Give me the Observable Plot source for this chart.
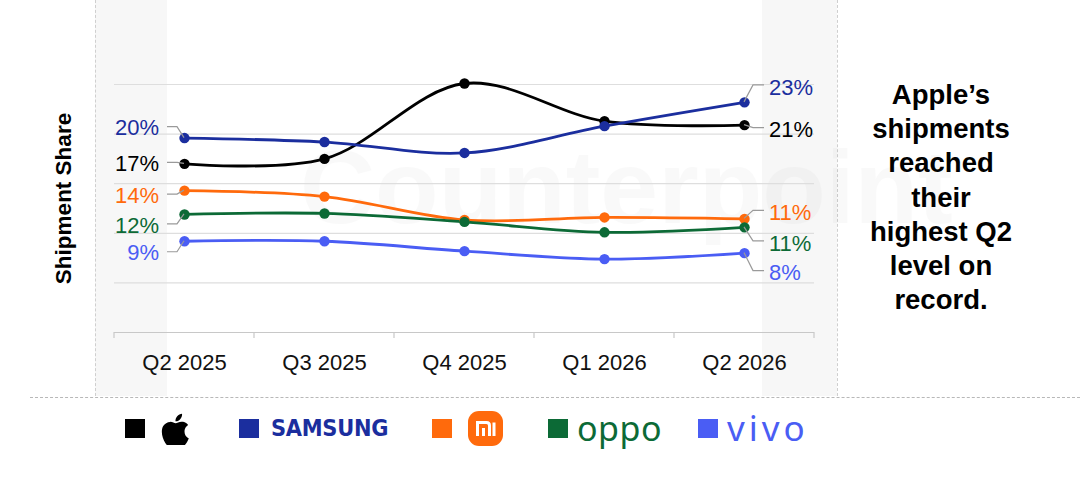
<!DOCTYPE html>
<html>
<head>
<meta charset="utf-8">
<script src="https://cdn.jsdelivr.net/npm/d3@7"></script>
<script src="https://cdn.jsdelivr.net/npm/@observablehq/plot@0.6"></script>
<style>
  html, body { margin: 0; padding: 0; background: #fff; }
  body { width: 1080px; height: 490px; position: relative; overflow: hidden; font-family: "Liberation Sans", Arial, sans-serif; }
  .abs { position: absolute; }
  .strip { background: #f7f7f7; top: 0; height: 396px; }
  .vdash { top: 0; height: 396px; border-left: 1.2px dashed #cfcfcf; width: 0; }
  .hdash { left: 30px; right: 0; top: 397px; border-top: 1.5px dashed #b8b8b8; height: 0; }
  .watermark { left: 300px; top: 128px; font: bold 104px "Liberation Sans", Arial, sans-serif; color: #000; opacity: 0.02; white-space: nowrap; }
  #chart { left: 0; top: 0; }
  .note { left: 826px; width: 230px; top: 78px; text-align: center; font: bold 27.5px/34.2px "Liberation Sans", Arial, sans-serif; color: #000; }
  .sq { width: 20px; height: 19px; top: 419px; }
</style>
</head>
<body>
<div class="abs strip" style="left:95px;width:72px"></div>
<div class="abs strip" style="left:762px;width:75px"></div>
<div class="abs vdash" style="left:95px"></div>
<div class="abs vdash" style="left:837px"></div>
<div class="abs hdash"></div>
<div class="abs watermark">Counterpoint</div>
<div class="abs" id="chart"></div>
<div class="abs note">Apple’s<br>shipments<br>reached<br>their<br>highest Q2<br>level on<br>record.</div>
<div id="legend"></div>
<script>
// ---- data ----
const quarters = ["Q2 2025", "Q3 2025", "Q4 2025", "Q1 2026", "Q2 2026"];
const brands = ["Apple", "Samsung", "Xiaomi", "OPPO", "vivo"];
const colors = ["#000000", "#1b2e9e", "#ff6a0c", "#0c6a36", "#4a5df4"];
const apple   = [17.0, 17.5, 25.1, 21.3, 20.9];
const samsung = [19.6, 19.2, 18.1, 20.8, 23.2];
const xiaomi  = [14.3, 13.7, 11.35, 11.6, 11.45];
const oppo    = [11.9, 12.0, 11.15, 10.1, 10.6];
const vivo    = [9.2, 9.2, 8.2, 7.4, 8.0];
const startLabels = ["17%", "20%", "14%", "12%", "9%"];
const endLabels   = ["21%", "23%", "11%", "11%", "8%"];
const gridValues = [5, 10, 15, 20, 25];

const series = [apple, samsung, xiaomi, oppo, vivo];
const rows = [];
brands.forEach((b, i) => quarters.forEach((q, j) => rows.push({brand: b, quarter: q, share: series[i][j]})));

// label layout (pixel offsets of the label from its point)
const startDy = {Apple: 0, Samsung: -10, Xiaomi: 5, OPPO: 11, vivo: 12};
const endDy   = {Apple: 5, Samsung: -15, Xiaomi: -6, OPPO: 16, vivo: 20};
const colorOf = Object.fromEntries(brands.map((b, i) => [b, colors[i]]));

function annotations(index, scales) {
  const {x, y} = scales;
  const g = d3.create("svg:g");
  const step = x(quarters[1]) - x(quarters[0]);
  const y0 = y(0);
  for (let i = 0; i <= quarters.length; i++) {
    const bx = x(quarters[0]) - step / 2 + i * step;
    g.append("line").attr("x1", bx).attr("x2", bx).attr("y1", y0).attr("y2", y0 + 6)
      .attr("stroke", "#c8c8c8").attr("stroke-width", 1.2);
  }
  brands.forEach((b, i) => {
    const c = colorOf[b];
    let px = x(quarters[0]), py = y(series[i][0]), ly = py + startDy[b];
    g.append("path").attr("d", `M${px - 17},${ly - 1}L${px - 7},${ly - 1}L${px},${py}`)
      .attr("fill", "none").attr("stroke", "#9a9a9a").attr("stroke-width", 1.2);
    g.append("text").attr("x", px - 25).attr("y", ly).attr("dy", "0.35em").attr("text-anchor", "end")
      .attr("fill", c).attr("font-size", 22).text(startLabels[i]);
    const n = quarters.length - 1;
    px = x(quarters[n]); py = y(series[i][n]); ly = py + endDy[b];
    g.append("path").attr("d", `M${px},${py}L${px + 9},${ly - 2}L${px + 20},${ly - 2}`)
      .attr("fill", "none").attr("stroke", "#9a9a9a").attr("stroke-width", 1.2);
    g.append("text").attr("x", px + 25).attr("y", ly).attr("dy", "0.35em").attr("text-anchor", "start")
      .attr("fill", c).attr("font-size", 22).text(endLabels[i]);
  });
  return g.node();
}

const chart = Plot.plot({
  width: 840,
  height: 395,
  marginLeft: 114,
  marginRight: 26,
  marginTop: 84,
  marginBottom: 63,
  style: {fontFamily: "'Liberation Sans', Arial, sans-serif", background: "transparent", color: "#111", overflow: "visible"},
  x: {type: "point", domain: quarters, padding: 0.5, label: null},
  y: {domain: [0, 25], axis: null},
  color: {domain: brands, range: colors},
  marks: [
    Plot.gridY(gridValues, {stroke: "#dedede", strokeOpacity: 1, strokeWidth: 1.2}),
    Plot.ruleY([0], {stroke: "#c8c8c8", strokeWidth: 1.2}),
    Plot.axisX({tickSize: 0, tickPadding: 22, fontSize: 22, label: null}),
    Plot.line(rows, {x: "quarter", y: "share", z: "brand", stroke: "brand", curve: "catmull-rom", strokeWidth: 2.8}),
    Plot.dot(rows, {x: "quarter", y: "share", fill: "brand", r: 5.2}),
    annotations,
    Plot.text(["Shipment Share"], {frameAnchor: "left", textAnchor: "middle", rotate: -90, dx: -51, dy: -10, fontWeight: "bold", fontSize: 22.5, fill: "#000"})
  ]
});
document.getElementById("chart").appendChild(chart);

// ---- legend (HTML below the chart) ----
const legend = document.getElementById("legend");
const sqLeft = [125, 239, 432, 548, 698];
brands.forEach((b, i) => {
  const s = document.createElement("div");
  s.className = "abs sq";
  s.style.left = sqLeft[i] + "px";
  s.style.background = colors[i];
  legend.appendChild(s);
});
legend.insertAdjacentHTML("beforeend", `
  <svg class="abs" style="left:157px;top:409px" width="34" height="36" viewBox="0 0 24 26" aria-label="Apple">
    <path fill="#000" d="M19.6 16.2c0-3 2.5-4.5 2.6-4.6-1.4-2.1-3.6-2.4-4.4-2.4-1.9-.2-3.6 1.1-4.6 1.1-.9 0-2.4-1.1-4-1-2 0-3.9 1.2-5 3-2.1 3.7-.5 9.2 1.5 12.2 1 1.5 2.2 3.1 3.800 3 1.5-.1 2.1-1 3.9-1 1.8 0 2.3 1 3.9 1 1.6 0 2.7-1.5 3.7-3 1.2-1.7 1.6-3.3 1.7-3.4-.1 0-3.1-1.2-3.1-4.9zM16.6 7.2c.8-1 1.4-2.4 1.2-3.8-1.2.1-2.6.8-3.5 1.8-.8.9-1.4 2.3-1.2 3.7 1.3.1 2.7-.7 3.5-1.7z"/>
  </svg>
  <div class="abs" style="left:271px;top:415px;font:bold 21px 'DejaVu Sans', sans-serif;color:${colors[1]};letter-spacing:-0.3px;transform:scaleY(1.12);transform-origin:left top">SAMSUNG</div>
  <svg class="abs" style="left:468px;top:411px" width="35" height="35" viewBox="0 0 35 35" aria-label="Xiaomi">
    <rect x="0" y="0" width="35" height="35" rx="11" fill="${colors[2]}"/>
    <path d="M9.5 25V11.5H18.5Q21.5 11.5 21.5 14.5V25M15.5 17V25M26 11.5V25" fill="none" stroke="#fff" stroke-width="3"/>
  </svg>
  <div class="abs" style="left:577px;top:405px;font:400 34px 'Noto Sans', sans-serif;color:${colors[3]};letter-spacing:0.5px">oppo</div>
  <div class="abs" style="left:727px;top:404px;font:400 35px 'Noto Sans', sans-serif;color:${colors[4]};letter-spacing:4px">vivo</div>
`);
</script>
</body>
</html>
